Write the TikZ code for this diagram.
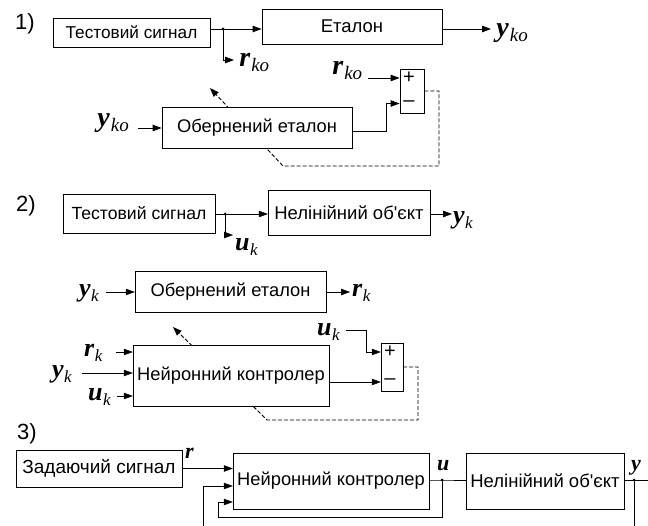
\documentclass[tikz,border=0pt]{standalone}
\usepackage{fontspec}
\setmainfont{Liberation Sans}[Ligatures=TeXOff]
\newfontfamily\serifl{Liberation Serif}
\usetikzlibrary{arrows.meta}
\pgfdeclarelayer{bg}
\pgfsetlayers{bg,main}
% section 1 labels
\newcommand{\lba}[2]{{\serifl\fontsize{28}{28}\selectfont\bfseries\itshape #1}\kern1pt\raisebox{-5pt}{\serifl\fontsize{19}{19}\selectfont\itshape #2}}
% section 2 labels
\newcommand{\lbb}[2]{{\serifl\fontsize{26}{26}\selectfont\bfseries\itshape #1}\kern0.5pt\raisebox{-5pt}{\serifl\fontsize{17}{17}\selectfont\itshape #2}}
% section 3 labels
\newcommand{\lbs}[1]{{\serifl\fontsize{22}{22}\selectfont\bfseries\itshape #1}}
\begin{document}
\begin{tikzpicture}[x=1pt,y=-1pt,line width=0.8pt,
  >={Triangle[length=9pt,width=6.5pt]},
  blk/.style={draw,fill=white,inner sep=0pt,font=\fontsize{18.3}{18.3}\selectfont},
  lab/.style={inner sep=0pt,anchor=base west},
  sgn/.style={inner sep=0pt,font=\fontsize{20}{20}\selectfont},
  num/.style={inner sep=0pt,font=\fontsize{22}{22}\selectfont},
  dsh/.style={dash pattern=on 4pt off 2pt,line width=0.9pt},
  dot/.style={circle,fill,inner sep=0pt,minimum size=3pt}]
\useasboundingbox (0,0) rectangle (648,526);

% ---------- 1) ----------
\node[num] (n1) at (25,24) {1)};
\node[blk,minimum width=157pt,minimum height=29pt,font=\fontsize{17.2}{17.2}\selectfont] (t1) at (131.5,32.5) {Тестовий сигнал};
\node[blk,minimum width=180pt,minimum height=35pt,font=\fontsize{18.5}{18.5}\selectfont] (e1) at (352,26.5) {Еталон};
\node[blk,minimum width=190pt,minimum height=41pt] (o1) at (257,127.5) {Обернений еталон};
\node[blk,minimum width=24pt,minimum height=44pt] (s1) at (412,91) {};
\node[sgn] (p1) at (409,78) {+};
\node[sgn] (m1) at (409,103.5) {–};
\coordinate (j1) at (223,29);
\node[dot] (jd1) at (j1) {};
\draw (t1.east |- j1) -- (j1);
\draw[->] (j1) -- (j1 -| e1.west);
\coordinate (yo1) at (491,29);
\draw[->] (e1.east |- yo1) -- (yo1);
\node[lab] (Ly1) at (496,37) {\lba{y}{ko}};
\coordinate (ro1) at (234,60);
\draw[->] (j1) |- (ro1);
\node[lab] (Lr1) at (239,67) {\lba{r}{ko}};
\node[lab] (Lr1b) at (332,75) {\lba{r}{ko}};
\coordinate (rs1) at (368,78);
\draw[->] (rs1) -- (rs1 -| s1.west);
\node[lab] (Ly1b) at (97,127) {\lba{y}{ko}};
\coordinate (yi1) at (138,128);
\draw[->] (yi1) -- (yi1 -| o1.west);
\coordinate (b1) at (386,131);
\draw[->] (o1.east |- b1) -- (b1) |- (s1.west |- m1);
\coordinate (d1a) at (439,166);
\coordinate (d1b) at (283,166);
\coordinate (d1c) at (210,88);
\begin{pgfonlayer}{bg}
\draw[dsh,->] (s1.east) -| (d1a) -- (d1b) -- (d1c);
\end{pgfonlayer}

% ---------- 2) ----------
\node[num] (n2) at (26,206) {2)};
\node[blk,minimum width=152pt,minimum height=39pt,font=\fontsize{17.6}{17.6}\selectfont] (t2) at (139,213.5) {Тестовий сигнал};
\node[blk,minimum width=162pt,minimum height=45pt,font=\fontsize{18.5}{18.5}\selectfont] (nl2) at (349,212.5) {Нелінійний об'єкт};
\node[blk,minimum width=191pt,minimum height=41pt] (o2) at (230.5,291.5) {Обернений еталон};
\node[blk,minimum width=196pt,minimum height=61pt] (c2) at (231,375.5) {Нейронний контролер};
\node[blk,minimum width=22pt,minimum height=48pt] (s2) at (392,367) {};
\node[sgn] (p2) at (390,352) {+};
\node[sgn] (m2) at (390,382) {–};
\coordinate (j2) at (225,214);
\node[dot] (jd2) at (j2) {};
\draw (t2.east |- j2) -- (j2);
\draw[->] (j2) -- (j2 -| nl2.west);
\coordinate (yo2) at (452,214);
\draw[->] (nl2.east |- yo2) -- (yo2);
\node[lab] (Ly2) at (453,224) {\lbb{y}{k}};
\coordinate (ub2) at (233,235);
\draw[->] (j2) |- (ub2);
\node[lab] (Lu2) at (235,251) {\lbb{u}{k}};
\node[lab] (Ly2b) at (79,297) {\lbb{y}{k}};
\coordinate (yi2) at (106,292);
\draw[->] (yi2) -- (yi2 -| o2.west);
\coordinate (ro2) at (350,292);
\draw[->] (o2.east |- ro2) -- (ro2);
\node[lab] (Lr2) at (352,297) {\lbb{r}{k}};
\node[lab] (Lu2b) at (317,336) {\lbb{u}{k}};
\coordinate (us2) at (346,330);
\coordinate (us2b) at (366,330);
\draw[->] (us2) -- (us2b) |- (s2.west |- p2);
\draw[->] (c2.east |- m2) -- (s2.west |- m2);
\node[lab] (Lr2c) at (84,357) {\lbb{r}{k}};
\coordinate (ri2) at (116,352);
\draw[->] (ri2) -- (ri2 -| c2.west);
\node[lab] (Ly2c) at (52,378) {\lbb{y}{k}};
\coordinate (yi2c) at (82,373);
\draw[->] (yi2c) -- (yi2c -| c2.west);
\node[lab] (Lu2c) at (88,401) {\lbb{u}{k}};
\coordinate (ui2) at (117,396);
\draw[->] (ui2) -- (ui2 -| c2.west);
\coordinate (d2a) at (418,420);
\coordinate (d2b) at (267,420);
\coordinate (d2c) at (173,327);
\begin{pgfonlayer}{bg}
\draw[dsh,->] (s2.east) -| (d2a) -- (d2b) -- (d2c);
\end{pgfonlayer}

% ---------- 3) ----------
\node[num] (n3n) at (27,434) {3)};
\node[blk,minimum width=166pt,minimum height=37pt,font=\fontsize{19}{19}\selectfont] (z3) at (99,468.5) {Задаючий сигнал};
\node[blk,minimum width=196pt,minimum height=56pt] (c3) at (331,481) {Нейронний контролер};
\node[blk,minimum width=158pt,minimum height=56pt,font=\fontsize{18.5}{18.5}\selectfont] (n3) at (545,481) {Нелінійний об'єкт};
\draw[->] (z3.east) -- (c3.west |- z3.east);
\node[lab] (Lr3) at (185,458) {\lbs{r}};
\coordinate (f2) at (203,526);
\coordinate (h2) at (203,486);
\draw[->] (f2) -- (h2) -- (h2 -| c3.west);
\coordinate (ju) at (442,480);
\node[dot] (jud) at (ju) {};
\draw (c3.east |- ju) -- (ju) -- (ju -| n3.west);
\coordinate (fb1) at (218,517);
\coordinate (fb2) at (218,502);
\draw[->] (ju) |- (fb1) -- (fb2) -- (fb2 -| c3.west);
\node[lab] (Lu3) at (437,470) {\lbs{u}};
\coordinate (jy) at (634,480);
\node[dot] (jyd) at (jy) {};
\coordinate (yend) at (648,480);
\coordinate (ybot) at (634,526);
\draw (n3.east |- jy) -- (yend);
\draw (jy) -- (ybot);
\node[lab] (Ly3) at (631,470) {\lbs{y}};
\end{tikzpicture}
\end{document}
